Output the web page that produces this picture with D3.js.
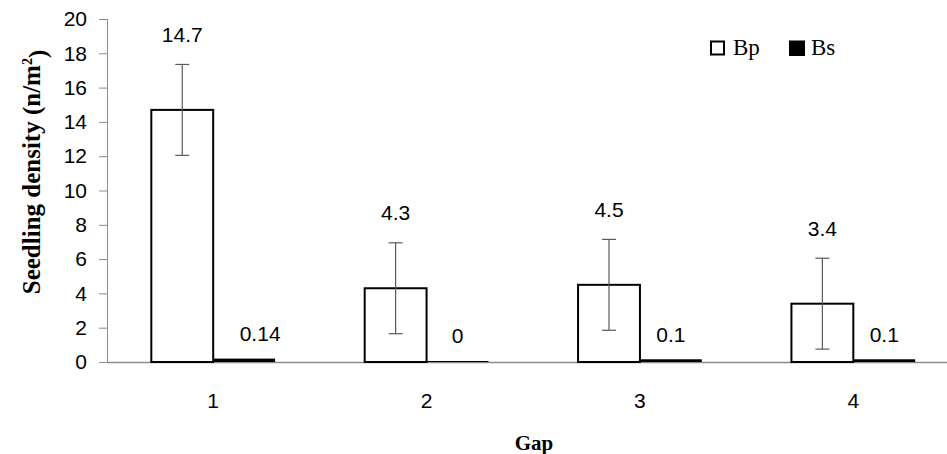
<!DOCTYPE html>
<html>
<head>
<meta charset="utf-8">
<script src="https://cdn.jsdelivr.net/npm/d3@7"></script>
<style>
  body { margin: 0; background: #fff; }
  svg { display: block; }
</style>
</head>
<body>
<div id="chart"></div>
<script>
// data
var gaps = ["1", "2", "3", "4"];
var seriesNames = ["Bp", "Bs"];
var bpValues = [14.7, 4.3, 4.5, 3.4];
var bsValues = [0.14, 0, 0.1, 0.1];
var bpErrors = [2.65, 2.65, 2.65, 2.65];
var bpLabels = ["14.7", "4.3", "4.5", "3.4"];
var bsLabels = ["0.14", "0", "0.1", "0.1"];
var yTicks = [0, 2, 4, 6, 8, 10, 12, 14, 16, 18, 20];

var svgWidth = 947;
var svgHeight = 454;

var svg = d3.select("#chart")
    .append("svg")
    .attr("width", svgWidth)
    .attr("height", svgHeight);

// scales
var yScale = d3.scaleLinear()
    .domain([0, 20])
    .range([362, 19]);

var xScale = d3.scaleBand()
    .domain(gaps)
    .range([106.5, 960])
    .paddingInner(0.42)
    .paddingOuter(0.21);

var xInner = d3.scaleBand()
    .domain(seriesNames)
    .range([0, xScale.bandwidth()]);

var axisColor = "#8c8c8c";
var numFont = "'Liberation Sans', Arial, sans-serif";
var serifFont = "'Liberation Serif', 'Times New Roman', serif";

// y axis
var yAxis = d3.axisLeft(yScale)
    .tickValues(yTicks)
    .tickSize(8)
    .tickPadding(12);

var yG = svg.append("g")
    .attr("transform", "translate(107,0)")
    .call(yAxis);
yG.select(".domain").attr("stroke", axisColor).attr("d", "M0.5," + yScale(20) + "V" + yScale(0));
yG.selectAll(".tick line").attr("stroke", axisColor);
yG.selectAll(".tick text")
    .attr("fill", "#000")
    .style("font-family", numFont)
    .style("font-size", "21px");

// x axis line and category labels
svg.append("line")
    .attr("x1", 107)
    .attr("x2", svgWidth)
    .attr("y1", yScale(0) + 0.5)
    .attr("y2", yScale(0) + 0.5)
    .attr("stroke", axisColor)
    .attr("stroke-width", 1.5);

svg.selectAll(".cat")
    .data(gaps)
    .enter()
    .append("text")
    .attr("class", "cat")
    .attr("x", d => xScale(d) + xScale.bandwidth() / 2)
    .attr("y", 408)
    .attr("text-anchor", "middle")
    .style("font-family", numFont)
    .style("font-size", "21px")
    .text(d => d);

// bars
var groups = svg.selectAll(".grp")
    .data(gaps)
    .enter()
    .append("g")
    .attr("class", "grp")
    .attr("transform", d => `translate(${xScale(d)},0)`);

groups.append("rect")
    .attr("x", xInner("Bp"))
    .attr("y", (d, i) => yScale(bpValues[i]))
    .attr("width", xInner.bandwidth())
    .attr("height", (d, i) => yScale(0) - yScale(bpValues[i]))
    .attr("fill", "#fff")
    .attr("stroke", "#000")
    .attr("stroke-width", 2);

groups.append("rect")
    .attr("x", xInner("Bs"))
    .attr("y", (d, i) => yScale(bsValues[i]) - 1)
    .attr("width", xInner.bandwidth())
    .attr("height", (d, i) => yScale(0) - yScale(bsValues[i]) + 1)
    .attr("fill", "#000")
    .attr("stroke", "none");

// error bars on Bp
var errColor = "#5a5a5a";
var cx = xInner("Bp") + xInner.bandwidth() / 2;
groups.append("line")
    .attr("x1", cx).attr("x2", cx)
    .attr("y1", (d, i) => yScale(bpValues[i] + bpErrors[i]))
    .attr("y2", (d, i) => yScale(bpValues[i] - bpErrors[i]))
    .attr("stroke", errColor)
    .attr("stroke-width", 1.2);

[1, -1].forEach(function (sign) {
    groups.append("line")
        .attr("x1", cx - 7).attr("x2", cx + 7)
        .attr("y1", (d, i) => yScale(bpValues[i] + sign * bpErrors[i]))
        .attr("y2", (d, i) => yScale(bpValues[i] + sign * bpErrors[i]))
        .attr("stroke", errColor)
        .attr("stroke-width", 1.2);
});

// data labels
groups.append("text")
    .attr("x", cx)
    .attr("y", (d, i) => yScale(bpValues[i] + bpErrors[i]) - 30)
    .attr("dy", "0.35em")
    .attr("text-anchor", "middle")
    .style("font-family", numFont)
    .style("font-size", "21px")
    .text((d, i) => bpLabels[i]);

groups.append("text")
    .attr("x", (d, i) => xInner("Bs") + xInner.bandwidth() / 2 + (i == 0 ? 16 : 0))
    .attr("y", (d, i) => yScale(bsValues[i]) - 26)
    .attr("dy", "0.35em")
    .attr("text-anchor", "middle")
    .style("font-family", numFont)
    .style("font-size", "21px")
    .text((d, i) => bsLabels[i]);

// axis titles
var yTitle = svg.append("text")
    .attr("transform", "translate(40,172) rotate(-90)")
    .attr("text-anchor", "middle")
    .style("font-family", serifFont)
    .style("font-weight", "bold")
    .style("font-size", "25px");
yTitle.append("tspan").text("Seedling density (n/m");
yTitle.append("tspan").attr("dy", "-0.55em").style("font-size", "14px").text("2");
yTitle.append("tspan").attr("dy", "0.55em").text(")");

svg.append("text")
    .attr("x", 534)
    .attr("y", 450)
    .attr("text-anchor", "middle")
    .style("font-family", serifFont)
    .style("font-weight", "bold")
    .style("font-size", "21px")
    .text("Gap");

// legend
var legend = svg.append("g");
legend.append("rect")
    .attr("x", 711).attr("y", 41.5)
    .attr("width", 13).attr("height", 13)
    .attr("fill", "#fff")
    .attr("stroke", "#000")
    .attr("stroke-width", 2);
legend.append("text")
    .attr("x", 733).attr("y", 55)
    .style("font-family", serifFont)
    .style("font-size", "23px")
    .text(seriesNames[0]);
legend.append("rect")
    .attr("x", 789).attr("y", 40.5)
    .attr("width", 16).attr("height", 15.5)
    .attr("fill", "#000");
legend.append("text")
    .attr("x", 811).attr("y", 55)
    .style("font-family", serifFont)
    .style("font-size", "23px")
    .text(seriesNames[1]);
</script>
</body>
</html>
